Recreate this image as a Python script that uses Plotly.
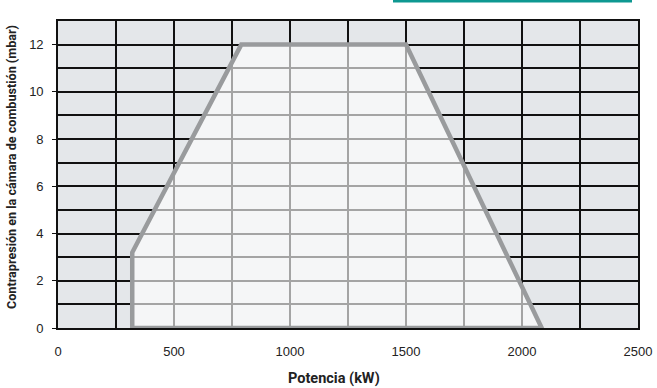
import plotly.graph_objects as go

# Envelope of the working field
potencia_kw = [320, 320, 790, 1500, 2085, 320]
contrapresion_mbar = [0, 3.2, 12, 12, 0, 0]

x_ticks = [0, 500, 1000, 1500, 2000, 2500]
y_ticks = [0, 2, 4, 6, 8, 10, 12]

x_title = "Potencia (kW)"
y_title = "Contrapresión en la cámara de combustión (mbar)"

fig = go.Figure()
fig.add_trace(go.Scatter(
    x=potencia_kw, y=contrapresion_mbar, mode="lines",
    fill="toself", fillcolor="rgba(255,255,255,0.62)",
    line=dict(color="#999b9d", width=4.5),
    hoverinfo="skip", showlegend=False,
))

axis_font = dict(family="Liberation Sans, Arial, sans-serif", size=13, color="#222")

fig.update_layout(
    width=657, height=388,
    margin=dict(l=58, r=19, t=21, b=60, autoexpand=False),
    paper_bgcolor="white",
    plot_bgcolor="#e4e7ea",
    showlegend=False,
    xaxis=dict(
        range=[0, 2500], tickvals=x_ticks, automargin=False,
        showgrid=True, gridcolor="#111", gridwidth=1.6,
        minor=dict(dtick=250, tick0=0, showgrid=True, gridcolor="#111", gridwidth=1.6),
        zeroline=False,
        showline=True, linecolor="#111", linewidth=1.6, mirror=True,
        ticks="", tickfont=axis_font, ticklabelstandoff=11,
    ),
    yaxis=dict(
        range=[0, 13], tickvals=y_ticks, automargin=False,
        showgrid=True, gridcolor="#111", gridwidth=1.6,
        minor=dict(dtick=1, tick0=0, showgrid=True, gridcolor="#111", gridwidth=1.6),
        zeroline=False,
        showline=True, linecolor="#111", linewidth=1.6, mirror=True,
        ticks="outside", ticklen=4, tickcolor="#111", tickwidth=1,
        tickfont=axis_font, ticklabelstandoff=6,
    ),
    annotations=[
        dict(text="<b>" + x_title + "</b>", xref="paper", yref="paper",
             x=(334 - 58) / 580, y=(328 - 378) / 307, xanchor="center", yanchor="middle",
             showarrow=False, font=dict(family="Roboto, sans-serif", size=14.5, color="#222")),
        dict(text="<b>" + y_title + "</b>", xref="paper", yref="paper",
             x=(11 - 58) / 580, y=(328 - 167) / 307, xanchor="center", yanchor="middle",
             textangle=-90, showarrow=False,
             font=dict(family="Roboto, sans-serif", size=12.6, color="#222")),
    ],
    shapes=[dict(type="line", xref="paper", yref="paper",
                 x0=(393 - 58) / 580, x1=(632 - 58) / 580,
                 y0=(328 - 1) / 307, y1=(328 - 1) / 307,
                 line=dict(color="#0e9891", width=3))],
)

fig.write_html("out.html", config={"displayModeBar": False},
               post_script="document.body.style.margin='0';")
